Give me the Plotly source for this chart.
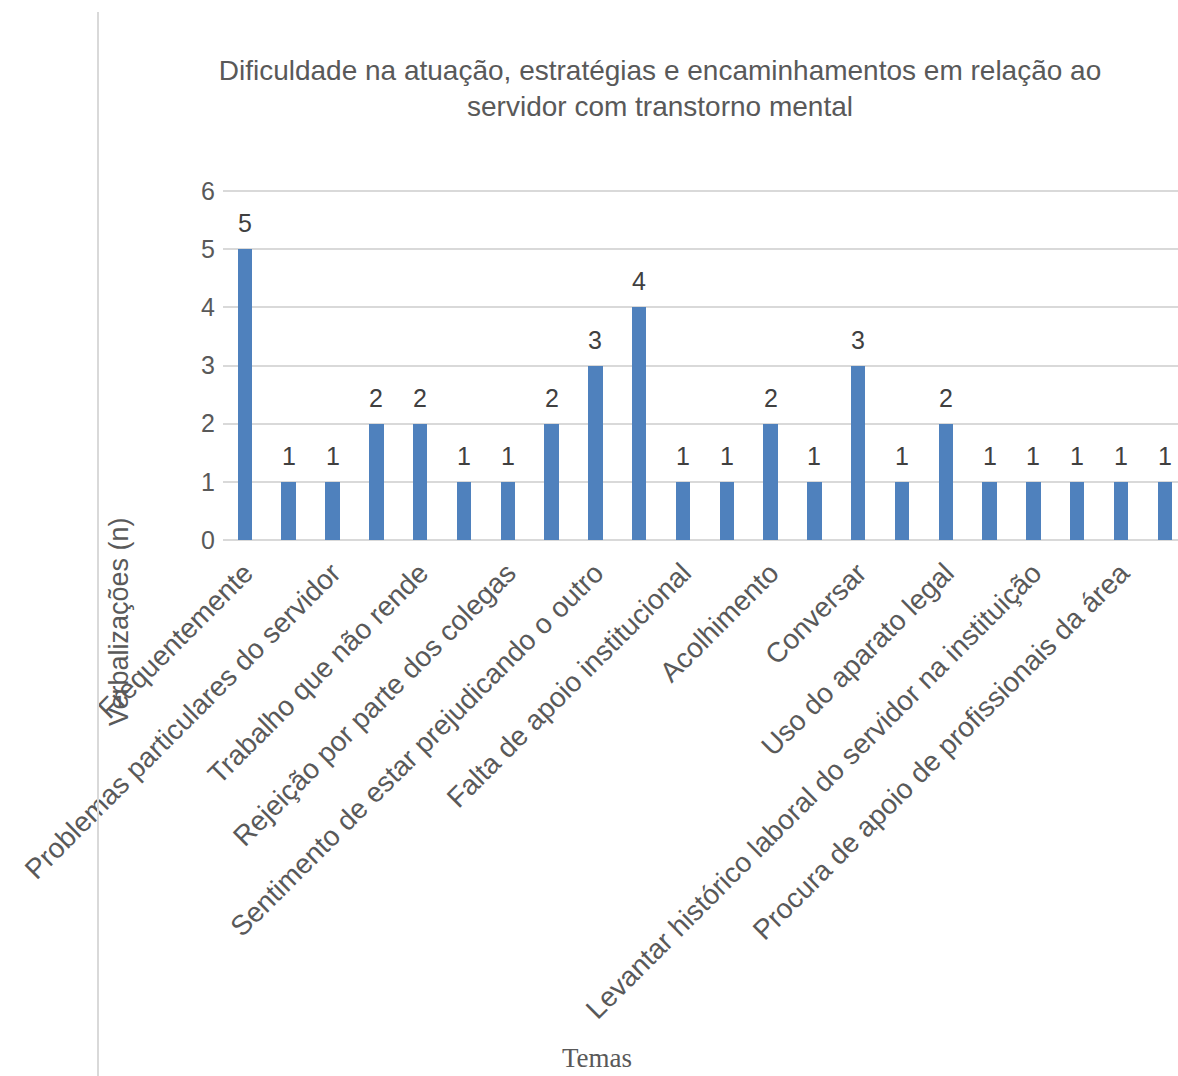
import plotly.graph_objects as go

title_text = "Dificuldade na atuação, estratégias e encaminhamentos em relação ao<br>servidor com transtorno mental"
tick_labels = [
    "Frequentemente",
    "Problemas particulares do servidor",
    "Trabalho que não rende",
    "Rejeição por parte dos colegas",
    "Sentimento de estar prejudicando o outro",
    "Falta de apoio institucional",
    "Acolhimento",
    "Conversar",
    "Uso do aparato legal",
    "Levantar histórico laboral do servidor na instituição",
    "Procura de apoio de profissionais da área",
]
values = [5, 1, 1, 2, 2, 1, 1, 2, 3, 4, 1, 1, 2, 1, 3, 1, 2, 1, 1, 1, 1, 1]
y_ticks = [0, 1, 2, 3, 4, 5, 6]
y_title = "Verbalizações (n)"
x_title = "Temas"

x_pos = list(range(len(values)))

W, H = 1178, 1076
ML, MR, MT, MB = 223, 0, 188, 536
PW = W - ML - MR
PH = H - MT - MB
Y_TOP = 6 + (191 - 188) / ((540 - 191) / 6)

SANS = "Liberation Sans, Arial, sans-serif"

fig = go.Figure()
fig.add_trace(go.Bar(
    x=x_pos, y=values, width=0.33,
    marker=dict(color="#4F81BD", line=dict(width=0)),
    hoverinfo="x+y",
))
for xi, v in zip(x_pos, values):
    fig.add_annotation(x=xi, y=v, text=str(v), showarrow=False, xanchor="center", yanchor="bottom",
                       yshift=10, font=dict(family=SANS, size=25, color="#404040"))

def px_x(px):
    return (px - ML) / PW

def px_y(py):
    return (H - MB - py) / PH

fig.update_layout(
    width=W, height=H,
    margin=dict(l=ML, r=MR, t=MT, b=MB, autoexpand=False),
    paper_bgcolor="white", plot_bgcolor="white",
    showlegend=False,
    bargap=0,
    title=dict(text=title_text, xref="container", x=660 / W, xanchor="center",
               yref="container", y=1 - 80 / H, yanchor="middle",
               font=dict(family="Liberation Sans Narrow, Arial Narrow, sans-serif", size=28, color="#595959")),
    xaxis=dict(
        range=[-0.5, 21.3], tickmode="array", tickvals=x_pos[::2], ticktext=tick_labels,
        tickangle=-45, showgrid=False, zeroline=False, showline=False, ticks="",
        ticklabelstandoff=10,
        tickfont=dict(family=SANS, size=28, color="#595959"),
        automargin=False,
    ),
    yaxis=dict(
        range=[0, Y_TOP], tickmode="array", tickvals=y_ticks, showgrid=True, gridcolor="#D9D9D9",
        gridwidth=2, zeroline=True, zerolinecolor="#D9D9D9", zerolinewidth=2, showline=False, ticks="",
        ticklabelstandoff=7,
        tickfont=dict(family=SANS, size=25, color="#595959"),
        automargin=False,
    ),
    font=dict(family=SANS),
)

fig.add_annotation(text=y_title, textangle=-90, xref="paper", yref="paper",
                   x=px_x(119), y=px_y(622), showarrow=False, xanchor="center", yanchor="middle",
                   font=dict(family=SANS, size=27, color="#595959"))
fig.add_annotation(text=x_title, xref="paper", yref="paper",
                   x=px_x(597), y=px_y(1058), showarrow=False, xanchor="center", yanchor="middle",
                   font=dict(family="Liberation Serif, Times New Roman, serif", size=27, color="#595959"))
fig.add_shape(type="line", xref="paper", yref="paper", x0=px_x(98), x1=px_x(98), y0=px_y(12), y1=px_y(1076),
              line=dict(color="#D9D9D9", width=2))

fig.write_html("out.html")
